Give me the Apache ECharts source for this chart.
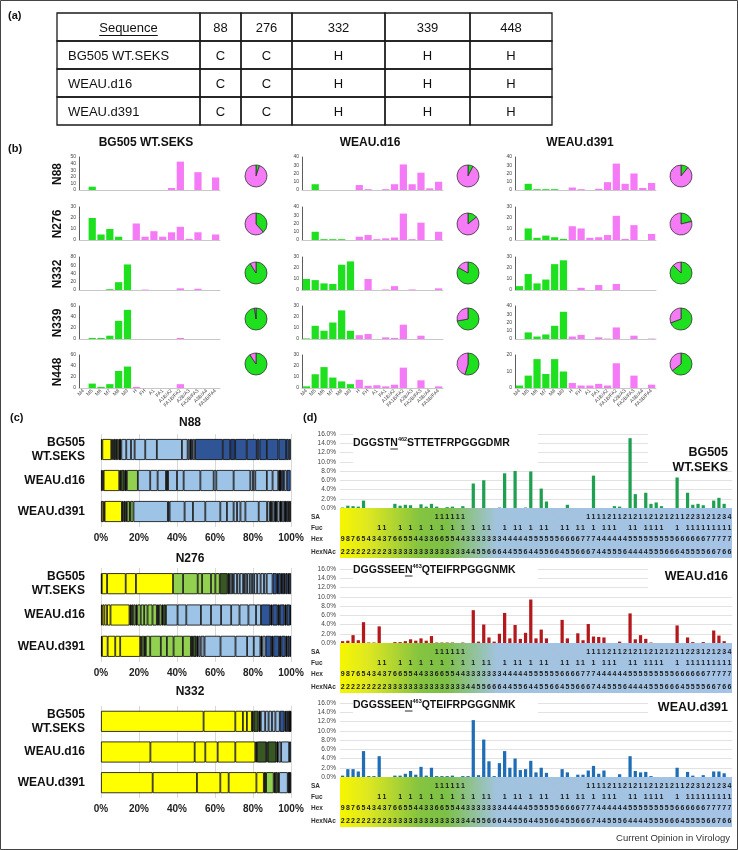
<!DOCTYPE html>
<html><head><meta charset="utf-8">
<script src="https://cdn.jsdelivr.net/npm/echarts@6/dist/echarts.min.js"></script>
<style>html,body{margin:0;padding:0;background:#fff}#c{width:738px;height:850px}</style>
</head><body><div id="c"></div>
<script>
const FONT = '"Liberation Sans", Arial, Helvetica, sans-serif';

// ---------- (a) table ----------
const tableHeader = ['Sequence', '88', '276', '332', '339', '448'];
const tableRows = [
  ['BG505 WT.SEKS', 'C', 'C', 'H', 'H', 'H'],
  ['WEAU.d16', 'C', 'C', 'H', 'H', 'H'],
  ['WEAU.d391', 'C', 'C', 'H', 'H', 'H']
];

// ---------- (b) glycan class bars ----------
const glycanCats = ['M4','M5','M6','M7','M8','M9','H','FH','A1','FA1','A1B/A2','FA1B/FA2','A2B/A3','FA2B/FA3','A3B/A4','FA3B/FA4'];
const bSamples = ['BG505 WT.SEKS', 'WEAU.d16', 'WEAU.d391'];
const bSites = ['N88', 'N276', 'N332', 'N339', 'N448'];
const bg505_N88  = [0,5,0,0,0,0,0,0,0,0,3,43,0,27,0,19];
const bg505_N276 = [0,20,5,10,3,0,15,3,8,3,7,12,1,7,0,5];
const bg505_N332 = [0,0,0,2,19,62,0,1,0,0,0,4,0,3,0,0];
const bg505_N339 = [0,2,2,6,33,53,0,0,0,0,0,2,0,0,0,0];
const bg505_N448 = [0,8,2,7,31,39,2,0,0,0,0,7,0,0,0,0];
const d16_N88  = [0,7,0,0,0,0,6,1,0,1,7,31,7,21,2,10];
const d16_N276 = [0,10,1,1,1,0,4,6,1,2,3,32,1,21,0,10];
const d16_N332 = [10,9,6,5.5,23,26,0,10,0,0.5,3.5,0,0.5,0,0,1.5];
const d16_N339 = [0.5,12,7.5,15,26,7.5,3.5,4.5,0,1.5,1,13,0,3,0,0];
const d16_N448 = [1.5,12.5,19,9.5,6,3.5,7.5,2,2.5,1.5,3,18.5,0,7,0,1.5];
const d391_N88  = [0,7.5,1,1,1,0,3,1,0,1.5,9.5,32,7.5,20,2.5,8.5];
const d391_N276 = [0,10.5,2,4,2.5,1,12.5,10.5,2,2.5,4.5,22,1,13.5,0,5.5];
const d391_N332 = [3.5,14.5,6,9.5,23.5,27,0,2,0,4.5,0,5.5,0,0,0,0];
const d391_N339 = [0,8,3,5.5,16,33,3,5,0,2,0.5,14,0,4,0,0.5];
const d391_N448 = [1.5,7.5,17.5,8.5,17.5,10,3,1.5,1.5,2.5,1.5,15,0,7.5,0,2];
const bAxisMax  = [[50,30,80,60,60],[40,40,30,30,30],[40,30,30,40,20]];
const bAxisStep = [[10,10,20,20,20],[10,10,10,10,10],[10,10,10,10,10]];

// ---------- (c) stacked composition bars (value %, class code) ----------
const cSites = ['N88', 'N276', 'N332'];
const cSamples = ['BG505\nWT.SEKS', 'WEAU.d16', 'WEAU.d391'];
const c_N88_bg505 = [[0.7,'O'],[4.7,'Y'],[0.7,'G'],[0.5,'K'],[0.9,'G'],[0.9,'K'],[0.9,'L'],[1.4,'K'],[2.6,'B'],[2.5,'B'],[1.9,'B'],[5.6,'B'],[6.1,'B'],[13.2,'B'],[3.0,'B'],[1.0,'B'],[0.7,'K'],[1.0,'D'],[1.2,'B'],[14.6,'D'],[3.9,'D'],[2.6,'N'],[6.1,'D'],[5.3,'D'],[1.4,'D'],[3.9,'D'],[6.1,'D'],[4.0,'D'],[1.4,'D'],[1.1,'D']];
const c_N88_d16 = [[0.7,'O'],[0.7,'K'],[8.2,'Y'],[0.9,'K'],[1.8,'G'],[1.3,'K'],[5.8,'L'],[6.5,'B'],[3.9,'B'],[4.4,'B'],[1.1,'K'],[4.7,'B'],[3.5,'B'],[8.8,'B'],[7.0,'B'],[1.4,'B'],[9.1,'B'],[8.8,'B'],[1.4,'B'],[1.2,'B'],[6.1,'B'],[3.0,'B'],[3.0,'B'],[1.8,'K'],[1.2,'D'],[1.4,'B'],[2.1,'D']];
const c_N88_d391 = [[1.4,'O'],[0.5,'K'],[9.1,'Y'],[0.9,'K'],[0.9,'G'],[0.8,'K'],[1.5,'L'],[0.4,'K'],[1.6,'L'],[18.1,'B'],[0.9,'D'],[7.9,'B'],[4.4,'B'],[6.5,'B'],[7.9,'B'],[3.5,'B'],[3.5,'B'],[1.8,'B'],[1.8,'B'],[2.6,'B'],[7.0,'B'],[4.4,'B'],[1.4,'B'],[1.2,'K'],[1.2,'B'],[1.4,'K'],[1.4,'B'],[1.2,'K'],[1.2,'B'],[1.4,'K'],[1.1,'D'],[1.1,'K']];
const c_N276_bg505 = [[0.4,'O'],[2.8,'Y'],[9.8,'Y'],[5.4,'Y'],[19.5,'Y'],[5.3,'L'],[7.7,'L'],[2.3,'L'],[4.7,'L'],[2.3,'L'],[2.3,'L'],[4.2,'G'],[1.1,'K'],[1.2,'B'],[0.9,'B'],[1.7,'B'],[1.4,'B'],[1.8,'B'],[0.9,'B'],[1.2,'B'],[1.4,'B'],[1.2,'B'],[1.1,'B'],[1.6,'B'],[1.8,'B'],[1.8,'B'],[1.4,'B'],[3.1,'B'],[2.2,'D'],[0.7,'K'],[1.4,'D'],[0.7,'K'],[1.1,'D'],[0.7,'K'],[1.1,'D'],[0.7,'K'],[1.1,'D']];
const c_N276_d16 = [[0.7,'O'],[1.1,'Y'],[1.4,'Y'],[1.8,'Y'],[10.0,'Y'],[0.9,'K'],[1.1,'G'],[1.2,'L'],[0.9,'K'],[1.8,'L'],[1.8,'L'],[1.8,'L'],[2.6,'L'],[2.3,'L'],[1.1,'K'],[1.4,'L'],[0.9,'K'],[1.4,'G'],[6.1,'B'],[4.6,'B'],[7.7,'B'],[5.3,'B'],[5.3,'B'],[5.3,'B'],[4.4,'B'],[4.7,'B'],[4.0,'B'],[2.6,'B'],[4.9,'D'],[1.1,'K'],[2.8,'D'],[1.1,'K'],[2.5,'D'],[1.1,'K'],[1.8,'D'],[0.5,'K']];
const c_N276_d391 = [[0.5,'O'],[3.0,'Y'],[4.0,'Y'],[2.6,'Y'],[10.5,'Y'],[0.9,'O'],[1.2,'L'],[0.9,'K'],[2.3,'L'],[5.6,'L'],[3.2,'L'],[3.5,'L'],[4.9,'L'],[4.2,'L'],[1.1,'K'],[1.8,'G'],[1.1,'K'],[1.1,'B'],[2.1,'S'],[8.4,'B'],[7.9,'B'],[6.1,'B'],[3.5,'B'],[3.5,'B'],[1.1,'K'],[1.6,'B'],[3.0,'D'],[1.1,'K'],[3.0,'D'],[1.2,'K'],[2.3,'D'],[0.9,'K'],[1.1,'D'],[0.8,'K']];
const c_N332_bg505 = [[54.0,'Y'],[16.7,'Y'],[4.0,'Y'],[2.1,'Y'],[2.6,'Y'],[0.9,'K'],[2.6,'G'],[1.2,'K'],[2.3,'B'],[1.8,'B'],[1.8,'B'],[1.8,'B'],[2.3,'B'],[2.5,'D'],[0.7,'K'],[1.1,'D'],[1.8,'K']];
const c_N332_d16 = [[26.0,'Y'],[23.3,'Y'],[5.6,'Y'],[6.5,'Y'],[9.3,'Y'],[10.5,'Y'],[0.9,'K'],[4.9,'G'],[0.7,'K'],[4.6,'G'],[1.1,'K'],[1.4,'B'],[4.2,'B'],[1.0,'D']];
const c_N332_d391 = [[27.2,'Y'],[23.3,'Y'],[12.3,'Y'],[4.4,'Y'],[14.6,'Y'],[3.9,'Y'],[1.2,'K'],[4.0,'L'],[0.7,'K'],[1.4,'G'],[0.7,'L'],[4.6,'B'],[1.8,'K']];

// ---------- (d) composition-level bars ----------
const dSamples = ['BG505\nWT.SEKS', 'WEAU.d16', 'WEAU.d391'];
const dPeptides = [['DGGST','N','462','STTETFRPGGGDMR'], ['DGGSSEE','N','463','QTEIFRPGGGNMK'], ['DGGSSEE','N','463','QTEIFRPGGGNMK']];
const dBG505 = [0.1,0.5,0.4,0.3,1.6,0,0,0,0,0, 0.9,0.5,0.7,0.6,0,0.8,0.3,0.9,0.3,0, 0.2,0.3,0,0.4,0,5.3,0,6.0,0,0, 0.1,7.5,0,8.0,0,0.1,7.9,0,4.2,1.4, 0,0,0,0.7,0,0,0,0,7.0,0, 0,0,0.4,0.3,0,15.1,3.0,0,3.3,0.9, 1.2,0.4,0,0,6.6,0,3.3,0.7,0.9,0.6, 0,1.6,2.2,0.9,0];
const dWEAUd16 = [0.4,0.5,1.7,0.6,4.5,0.1,0.1,3.6,0,0, 0.2,0.2,0.4,0.8,0.5,1.0,0.5,1.5,0.1,0.1, 0.1,0.1,0,0.1,0,7.1,0.3,4.0,1.2,0.3, 2.0,6.5,1.0,3.9,0.9,2.2,9.4,1.0,2.9,1.0, 0,0,5.0,1.0,0,2.1,0.6,4.1,1.4,1.3, 1.2,0,0,0.3,0,6.4,0.8,1.7,0.9,0.1, 0,0,0,0,3.8,0,1.2,0.2,0,0.2, 0,2.7,1.6,0.4,0];
const dWEAUd391 = [0.3,1.7,1.7,1.2,5.6,0.2,0.2,4.5,0,0, 0.3,0.3,0.7,1.3,0.5,2.2,0.3,2.0,0.2,0.2, 0.2,0.3,0,0.2,0.2,12.3,0.4,8.1,3.4,0.2, 3.0,5.6,2.0,4.0,1.5,1.7,3.5,1.0,2.0,0.9, 0,0,1.7,1.0,0,0.5,0.5,1.4,2.4,0.7, 1.4,0,0,0.6,0,4.5,1.3,1.0,1.1,0.2, 0,0,0,0,2.0,0,1.1,0.3,0,0.4, 0,1.2,1.2,0.8,0];
const rowNames = ['SA', 'Fuc', 'Hex', 'HexNAc'];
const rowSA     = '..........' + '........11' + '1111......' + '..........' + '.......' + '1111211212112121211223121234';
const rowFuc    = '.......11.' + '.1.1.1.1.1' + '.1.1.1.11.' + '.1.11.1.11' + '..11.11.1.' + '111..11.11' + '11..1.1111' + '11111';
const rowHex    = '987654343' + '766554433' + '665544' + '3333333' + '44444' + '555555' + '6666' + '777' + '444444' + '555555555' + '666666' + '77777';
const rowHexNAc = '222222222' + '333333333333333' + '4455666' + '44556' + '445566' + '4556' + '667' + '445556' + '444455566' + '645555' + '66766';

// ---------- styling ----------
const GREEN = '#1ee01e', PINK = '#f57af5';
const CCOL = {O:'#8c7b28', Y:'#ffff00', L:'#92d050', G:'#385723', K:'#111111', B:'#9dc3e6', D:'#2f5597', N:'#1f3d7a', S:'#8497b0'};
const D_COLORS = ['#1fa050', '#b3181c', '#1f6eb5'];

const mctx = document.createElement('canvas').getContext('2d');
function tw(t, size, weight) { mctx.font = (weight || 'normal') + ' ' + size + 'px ' + FONT; return mctx.measureText(t).width; }

const grid = [], xAxis = [], yAxis = [], series = [], graphic = [];
function txt(x, y, text, st, extra) {
  graphic.push(Object.assign({type:'text', x:x, y:y, z:50, silent:true,
    style:Object.assign({text:text, fill:'#111', fontFamily:FONT, fontSize:11, fontWeight:'bold', align:'left', verticalAlign:'middle'}, st || {})}, extra || {}));
}
function line(x1, y1, x2, y2, w, c) {
  graphic.push({type:'line', z:50, silent:true, shape:{x1:x1, y1:y1, x2:x2, y2:y2}, style:{stroke:c || '#111', lineWidth:w || 1}});
}

// ===== (a) =====
txt(8, 16, '(a)');
const tColX = [57, 200, 241, 292, 385, 470, 552];
const tRowY = [13, 41, 69, 97, 125];
const tAll = [tableHeader].concat(tableRows);
tAll.forEach((row, r) => {
  row.forEach((cell, c) => {
    graphic.push({type:'rect', z:40, silent:true, shape:{x:tColX[c], y:tRowY[r], width:tColX[c+1]-tColX[c], height:tRowY[r+1]-tRowY[r]},
      style:{fill:'none', stroke:'#1a1a1a', lineWidth:1.3}});
    const cy = (tRowY[r] + tRowY[r+1]) / 2 + 1;
    if (c === 0 && r > 0) txt(tColX[0] + 11, cy, cell, {fontSize:13, fontWeight:'normal'});
    else txt((tColX[c] + tColX[c+1]) / 2, cy, cell, {fontSize:13, fontWeight:'normal', align:'center'});
    if (c === 0 && r === 0) {
      const w = tw(cell, 13);
      const cx = (tColX[0] + tColX[1]) / 2;
      line(cx - w/2, cy + 7.5, cx + w/2, cy + 7.5, 1);
    }
  });
});

// ===== (b) =====
txt(8, 149, '(b)');
const bData = [[bg505_N88, bg505_N276, bg505_N332, bg505_N339, bg505_N448],
               [d16_N88, d16_N276, d16_N332, d16_N339, d16_N448],
               [d391_N88, d391_N276, d391_N332, d391_N339, d391_N448]];
const bLeft = [79, 302, 515], bTop = [157, 207, 257, 306, 355], bW = 141, bH = 33;
const pieX = [256, 468, 681], pieY = [176, 224, 273, 319, 364];
const bTitleX = [146, 370, 580];
bSamples.forEach((s, c) => txt(bTitleX[c], 143, s, {fontSize:12, align:'center'}));
bSites.forEach((s, r) => txt(58, bTop[r] + 17, s, {fontSize:12, align:'center'}, {rotation: Math.PI / 2}));
for (let c = 0; c < 3; c++) {
  for (let r = 0; r < 5; r++) {
    const vals = bData[c][r];
    const gi = grid.length;
    grid.push({left:bLeft[c], top:bTop[r], width:bW, height:bH, outerBoundsMode:'none'});
    const xi = xAxis.length, yi = yAxis.length;
    xAxis.push({gridIndex:gi, type:'category', data:glycanCats,
      axisLine:{lineStyle:{color:'#c8c8c8', width:1}}, axisTick:{show:false},
      axisLabel: r === 4 ? {interval:0, rotate:45, fontSize:5, color:'#444', margin:2, fontFamily:FONT} : {show:false}});
    yAxis.push({gridIndex:gi, type:'value', min:0, max:bAxisMax[c][r], interval:bAxisStep[c][r],
      axisLine:{show:true, lineStyle:{color:'#333', width:0.8}}, axisTick:{show:false}, splitLine:{show:false},
      axisLabel:{fontSize:5, color:'#444', margin:3, fontFamily:FONT}});
    series.push({type:'bar', xAxisIndex:xi, yAxisIndex:yi, barWidth:'82%', silent:true,
      data: vals.map((v, i) => ({value:v, itemStyle:{color: i < 6 ? GREEN : PINK}}))});
    const green = vals.slice(0, 6).reduce((a, b) => a + b, 0);
    const pink = vals.slice(6).reduce((a, b) => a + b, 0);
    series.push({type:'pie', center:[pieX[c], pieY[r]], radius:11, startAngle:90, silent:true,
      label:{show:false}, labelLine:{show:false}, itemStyle:{borderColor:'#333', borderWidth:0.8},
      data:[{value:green, itemStyle:{color:GREEN}}, {value:pink, itemStyle:{color:PINK}}]});
  }
}

// ===== (c) =====
txt(10, 418, '(c)');
const cData = [[c_N88_bg505, c_N88_d16, c_N88_d391], [c_N276_bg505, c_N276_d16, c_N276_d391], [c_N332_bg505, c_N332_d16, c_N332_d391]];
const cTop = [434, 568, 706], cH = [93, 94, 92], cTitleY = [423, 559, 692];
cSites.forEach((site, s) => {
  txt(190, cTitleY[s], site, {fontSize:12, align:'center'});
  const gi = grid.length;
  grid.push({left:101, width:190, top:cTop[s], height:cH[s], outerBoundsMode:'none'});
  const xi = xAxis.length, yi = yAxis.length;
  xAxis.push({gridIndex:gi, type:'value', min:0, max:100, interval:20,
    axisLine:{show:false}, axisTick:{show:false},
    splitLine:{show:true, lineStyle:{color:'#d9d9d9', width:1}},
    axisLabel:{formatter:'{value}%', fontSize:10, fontWeight:'bold', color:'#222', margin:6, fontFamily:FONT}});
  yAxis.push({gridIndex:gi, type:'category', inverse:true, data:cSamples,
    axisLine:{show:false}, axisTick:{show:false},
    axisLabel:{fontSize:12, fontWeight:'bold', color:'#111', margin:16, lineHeight:14, fontFamily:FONT}});
  const rows = cData[s];
  const maxLen = Math.max.apply(null, rows.map(r => r.length));
  for (let k = 0; k < maxLen; k++) {
    series.push({type:'bar', xAxisIndex:xi, yAxisIndex:yi, stack:'c' + s, barWidth:21, silent:true,
      itemStyle:{borderColor:'#000', borderWidth:0.8},
      data: rows.map(r => r[k] ? {value:r[k][0], itemStyle:{color:CCOL[r[k][1]]}} : '-')});
  }
});

// ===== (d) =====
txt(303, 418, '(d)');
const dVals = [dBG505, dWEAUd16, dWEAUd391];
const dTop = [434, 569, 703], dH = 74, dLeft = 340, dW = 392;
const idxCats = dBG505.map((v, i) => String(i));
const tableRowsD = [rowSA, rowFuc, rowHex, rowHexNAc].map(s => s.split('').map(ch => ch === '.' ? '' : ch));
const rowOffsets = [5.5, 16.5, 27.5, 40.5];
const seqY = [443, 570, 705];
const seqBox = [[353, 430, 185, 33], [353, 565, 185, 18], [353, 699, 185, 18]];
const labBox = [[648, 430, 86, 34], [648, 565, 86, 26], [648, 699, 86, 18]];
const labY = [460, 577, 708];
dVals.forEach((vals, p) => {
  const gi = grid.length;
  grid.push({left:dLeft, width:dW, top:dTop[p], height:dH, outerBoundsMode:'none'});
  const xi = xAxis.length, yi = yAxis.length;
  xAxis.push({gridIndex:gi, type:'category', data:idxCats, axisLine:{show:false}, axisTick:{show:false}, axisLabel:{show:false}});
  tableRowsD.forEach((row, k) => {
    xAxis.push({gridIndex:gi, type:'category', position:'bottom', offset:rowOffsets[k], data:row, z:10,
      axisLine:{show:false}, axisTick:{show:false},
      axisLabel:{interval:0, fontSize:7, fontWeight:'bold', color:'#1a1a1a', margin:0, fontFamily:FONT}});
  });
  yAxis.push({gridIndex:gi, type:'value', min:0, max:16, interval:2,
    axisLine:{show:false}, axisTick:{show:false},
    splitLine:{show:true, lineStyle:{color:'#dadada', width:0.8}},
    axisLabel:{formatter: v => v.toFixed(1) + '%', fontSize:6.5, color:'#444', margin:4, fontFamily:FONT}});
  series.push({type:'bar', xAxisIndex:xi, yAxisIndex:yi, barWidth:'62%', silent:true,
    itemStyle:{color:D_COLORS[p]}, data:vals});
  const zero = dTop[p] + dH;
  // colour band behind the composition table
  graphic.push({type:'rect', z:1, silent:true, shape:{x:dLeft, y:zero, width:dW, height:50},
    style:{fill:new echarts.graphic.LinearGradient(0, 0, 1, 0, [
      {offset:0, color:'#f6f600'}, {offset:0.07, color:'#dfe820'}, {offset:0.2, color:'#86c440'},
      {offset:0.27, color:'#7cc046'}, {offset:0.4, color:'#a2c3de'}, {offset:1, color:'#a4c3e6'}])}});
  rowNames.forEach((nm, k) => txt(311, zero + rowOffsets[k] + 3.5, nm, {fontSize:6.5, fill:'#333'}));
  // white boxes behind titles
  [seqBox[p], labBox[p]].forEach(b => graphic.push({type:'rect', z:5, silent:true, shape:{x:b[0], y:b[1], width:b[2], height:b[3]}, style:{fill:'#fff'}}));
  const pep = dPeptides[p];
  const fs = 10.5;
  txt(353, seqY[p], '{a|' + pep[0] + '}{a|' + pep[1] + '}{s|' + pep[2] + '}{a|' + pep[3] + '}',
    {rich:{a:{fontSize:fs, fontWeight:'bold', fontFamily:FONT, fill:'#111', lineHeight:13},
           s:{fontSize:5.5, fontWeight:'bold', fontFamily:FONT, fill:'#111', verticalAlign:'top', lineHeight:7}}});
  const ux = 353 + tw(pep[0], fs, 'bold');
  line(ux, seqY[p] + 6, ux + tw(pep[1], fs, 'bold'), seqY[p] + 6, 0.9);
  txt(728, labY[p], dSamples[p], {fontSize:12.5, align:'right', lineHeight:15});
});
txt(730, 838, 'Current Opinion in Virology', {fontSize:9.5, fontWeight:'normal', fill:'#333', align:'right'});

// page frame
graphic.push({type:'rect', z:60, silent:true, shape:{x:0.5, y:0.5, width:737, height:849}, style:{fill:'none', stroke:'#444', lineWidth:1}});

const chart = echarts.init(document.getElementById('c'), null, {renderer:'canvas', width:738, height:850});
chart.setOption({
  animation:false,
  backgroundColor:'#ffffff',
  textStyle:{fontFamily:FONT},
  grid:grid, xAxis:xAxis, yAxis:yAxis, series:series,
  graphic:{elements:graphic}
});
</script></body></html>
